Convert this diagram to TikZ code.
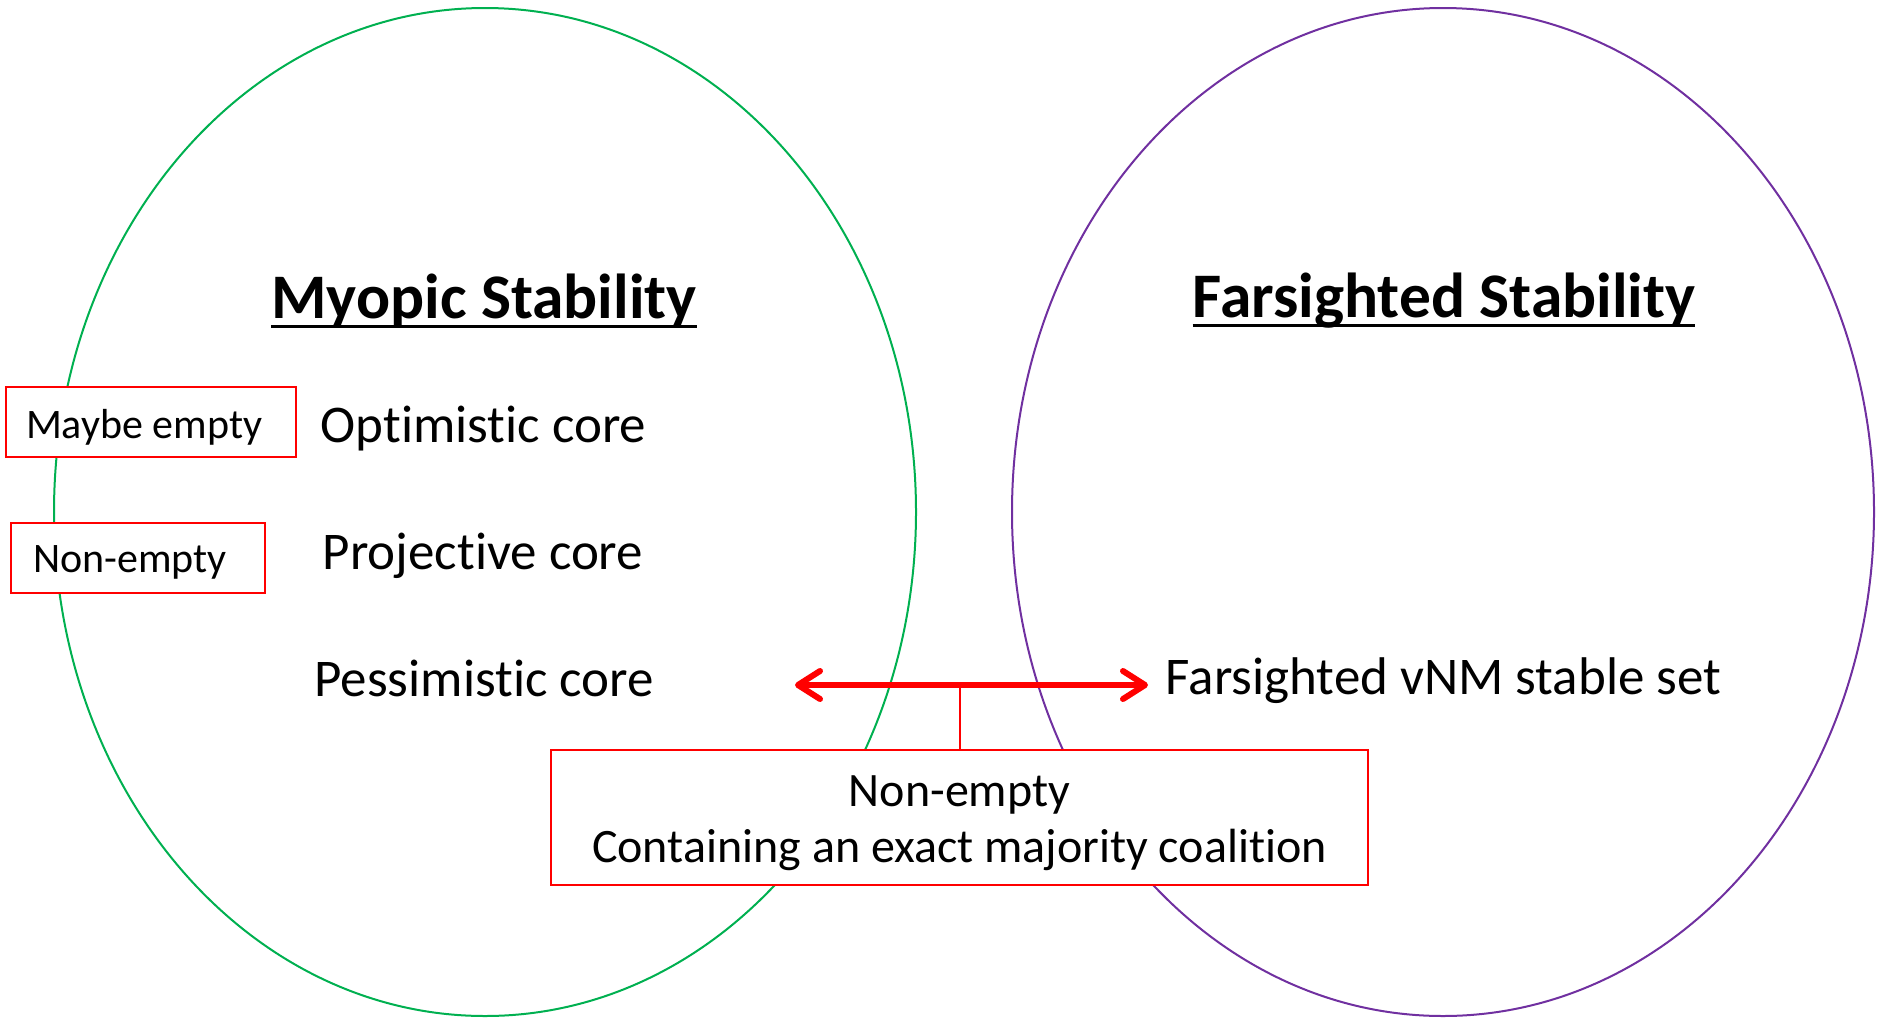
\documentclass[tikz,border=0pt]{standalone}
\usepackage{fontspec}
\setmainfont{Carlito}[RawFeature={-liga;-clig;-calt;-dlig}]
\usetikzlibrary{shapes.geometric,arrows.meta}
\definecolor{pgreen}{HTML}{00B050}
\definecolor{ppurple}{HTML}{7030A0}
\definecolor{pred}{HTML}{FF0000}
\tikzset{
  oval/.style={draw, ellipse, line width=2pt, inner sep=0pt, minimum width=862pt, minimum height=1008pt},
  titletext/.style={anchor=base, inner sep=0pt, font=\fontsize{63.5}{76}\selectfont\bfseries},
  bigtext/.style={anchor=base, inner sep=0pt, font=\fontsize{53}{64}\selectfont},
  notetext/.style={anchor=base, inner sep=0pt, font=\fontsize{48}{56}\selectfont},
  smallbox/.style={draw=pred, line width=2pt, fill=white, anchor=west, font=\fontsize{42}{50}\selectfont, inner ysep=0pt, minimum height=70pt, text depth=0pt},
  notebox/.style={draw=pred, line width=2pt, fill=white, minimum width=817pt, minimum height=135pt, inner sep=0pt},
  biarrow/.style={pred, line width=6pt, {Straight Barb[length=22pt,width=28pt,line cap=round,line join=round]}-{Straight Barb[length=22pt,width=28pt,line cap=round,line join=round]}},
  stem/.style={pred, line width=2pt},
  uline/.style={line width=3pt}
}
\begin{document}
\begin{tikzpicture}[x=1pt,y=-1pt]
\useasboundingbox (0,0) rectangle (1878,1018);
% ellipses
\node[oval, draw=pgreen] (myo) at (485,512) {};
\node[oval, draw=ppurple] (far) at (1443,512) {};
% titles
\node[titletext] (myt) at (484,318) {Myopic Stability};
\node[titletext] (fat) at (1444,317) {Farsighted Stability};
\draw[uline] ([yshift=-8pt]myt.base west) -- ([yshift=-8pt]myt.base east);
\draw[uline] ([yshift=-8pt]fat.base west) -- ([yshift=-8pt]fat.base east);
% concepts
\node[bigtext] (opt) at (483.5,442) {Optimistic core};
\node[bigtext] (pro) at (483,569) {Projective core};
\node[bigtext] (pes) at (484,696) {Pessimistic core};
\node[bigtext] (vnm) at (1443.5,694) {Farsighted vNM stable set};
% side boxes
\node[smallbox, inner xsep=20pt, text height=32pt] (may) at (5,422) {\makebox[250pt][l]{Maybe empty}};
\node[smallbox, inner xsep=22pt, text height=28pt] (non) at (10,558) {\makebox[210pt][l]{Non-empty}};
% arrow and note
\coordinate (la) at (795,685);
\coordinate (ra) at (1148,685);
\coordinate (mid) at (959.5,685);
\node[notebox] (note) at (959.5,817.5) {};
\node[notetext] (note1) at (959.5,806) {Non-empty};
\node[notetext] (note2) at (959.5,862) {Containing an exact majority coalition};
\draw[stem] (mid) -- (note.north);
\draw[biarrow] (la) -- (ra);
\end{tikzpicture}
\end{document}
